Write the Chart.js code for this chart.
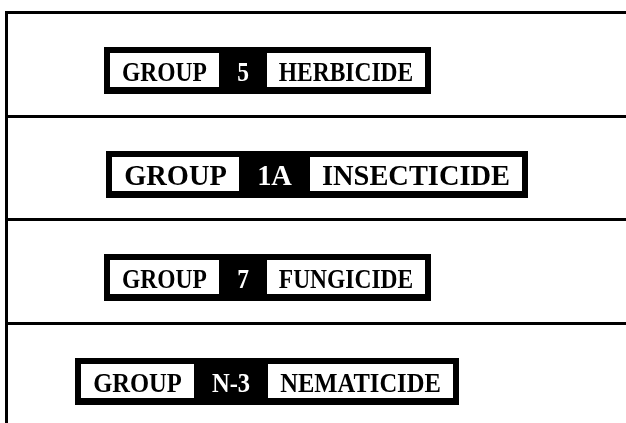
<!DOCTYPE html>
<html>
<head>
<meta charset="utf-8">
<script src="https://cdn.jsdelivr.net/npm/chart.js@4"></script>
<style>
  body { margin: 0; background: #ffffff; }
  #wrap { width: 626px; height: 423px; }
</style>
</head>
<body>
<div id="wrap"><canvas id="big_graph" width="626" height="423"></canvas></div>
<script>
// one row per pesticide class
const groupWord = 'GROUP';
const codes = ['5', '1A', '7', 'N-3'];
const pesticideTypes = ['HERBICIDE', 'INSECTICIDE', 'FUNGICIDE', 'NEMATICIDE'];
const rows = [0, 1, 2, 3];
// horizontal centre of each label
const labelX = [267, 317, 267, 267];
// table rules (y) and the left rule (x)
const rowRules = [-0.561, 0.439, 1.439, 2.439];
const colRules = [6];

// text size / horizontal squeeze per row
const rowStyle = [
    { size: 27, stretch: 0.87 },
    { size: 29, stretch: 0.98 },
    { size: 27, stretch: 0.87 },
    { size: 27, stretch: 0.91 },
];

const labelBoxes = {
    id: 'labelBoxes',
    afterDatasetsDraw(chart) {
        const ctx = chart.ctx;
        const points = chart.getDatasetMeta(0).data;
        points.forEach((pt, i) => {
            const st = rowStyle[i];
            const border = 6;
            ctx.save();
            ctx.font = 'bold ' + st.size + 'px "Liberation Serif", "Times New Roman", serif';
            const segs = [
                { text: groupWord, fill: '#ffffff', color: '#000000', pad: 12 },
                { text: codes[i], fill: null, color: '#ffffff', pad: 18 },
                { text: pesticideTypes[i], fill: '#ffffff', color: '#000000', pad: 12 },
            ];
            let total = border * 2;
            segs.forEach(s => {
                s.w = Math.round(ctx.measureText(s.text).width * st.stretch + s.pad * 2);
                total += s.w;
            });
            const left = Math.round(pt.x - total / 2);
            const top = Math.round(pt.y - 23.5);
            ctx.fillStyle = '#000000';
            ctx.fillRect(left, top, total, 47);
            let x = left + border;
            const base = pt.y + st.size * 0.33 + 1.5;
            segs.forEach(s => {
                if (s.fill) {
                    ctx.fillStyle = s.fill;
                    ctx.fillRect(x, top + 6, s.w, 34);
                }
                ctx.save();
                ctx.translate(x + s.w / 2, base);
                ctx.scale(st.stretch, 1);
                ctx.fillStyle = s.color;
                ctx.textAlign = 'center';
                ctx.textBaseline = 'alphabetic';
                ctx.fillText(s.text, 0, 0);
                ctx.restore();
                x += s.w;
            });
            ctx.restore();
        });
    }
};

const data = {
    datasets: [{
        label: 'labels',
        data: rows.map((r, i) => ({ x: labelX[i], y: r })),
        pointRadius: 0,
        pointHoverRadius: 0,
    }]
};

const config = {
    type: 'scatter',
    data: data,
    plugins: [labelBoxes],
    options: {
        responsive: false,
        animation: false,
        events: [],
        layout: {
            padding: { top: 11, left: 5, right: 0, bottom: 0 }
        },
        plugins: {
            legend: { display: false },
            title: { display: false },
            tooltip: { enabled: false }
        },
        scales: {
            x: {
                type: 'linear',
                min: 5,
                max: 626,
                afterBuildTicks: axis => { axis.ticks = colRules.map(v => ({ value: v })); },
                ticks: { display: false },
                border: { display: false },
                grid: { color: '#000000', lineWidth: 3, drawTicks: false }
            },
            y: {
                type: 'linear',
                reverse: true,
                min: -0.5735,
                max: 3.3976,
                afterBuildTicks: axis => { axis.ticks = rowRules.map(v => ({ value: v })); },
                ticks: { display: false },
                border: { display: false },
                grid: { color: '#000000', lineWidth: 3, drawTicks: false }
            }
        }
    }
};

window.addEventListener('load', function () {
    new Chart(document.getElementById('big_graph'), config);
});
</script>
</body>
</html>
